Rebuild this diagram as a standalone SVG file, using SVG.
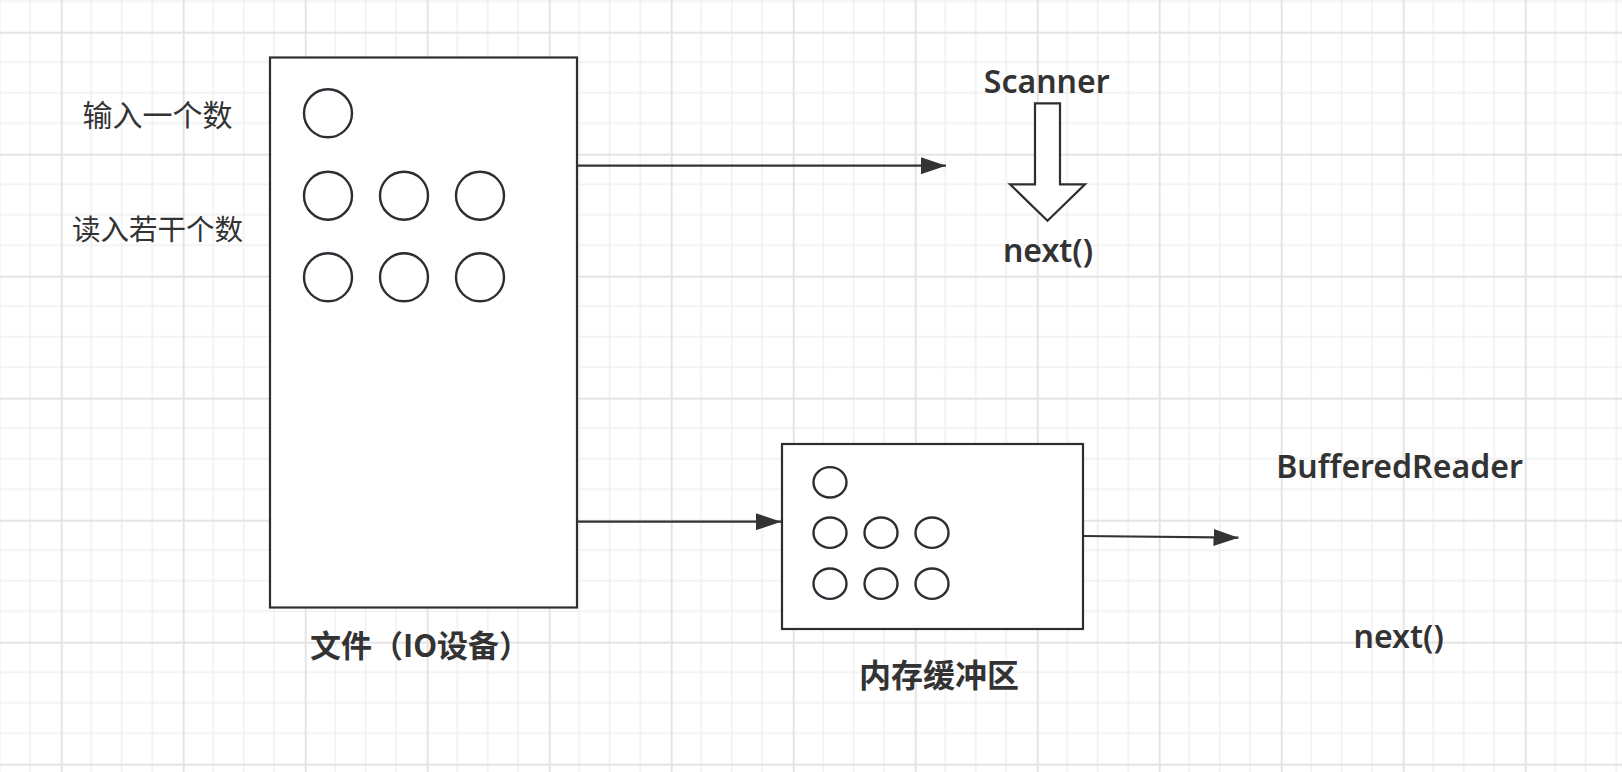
<svg xmlns="http://www.w3.org/2000/svg" width="1622" height="772" viewBox="0 0 1622 772">
<style>
.box{fill:#fff;stroke:#2b2e33;stroke-width:2.2}
.dot{fill:none;stroke:#2b2e33;stroke-width:2.4}
.conn{stroke:#333;stroke-width:2.2;fill:none}
.cjk{font-family:"Noto Sans CJK SC","Noto Sans",sans-serif;fill:#333}
.lat{font-family:"Noto Sans","Liberation Sans",sans-serif;font-weight:600;fill:#333;font-size:32px}
.big{fill:#fff;stroke:#2b2e33;stroke-width:2.2}
</style>
<defs>
<pattern id="grid" patternUnits="userSpaceOnUse" x="60.7" y="31.7" width="122" height="122">
<path d="M30.5 0V122M61 0V122M91.5 0V122M0 30.5H122M0 61H122M0 91.5H122" stroke="#efefef" stroke-width="1.5" fill="none"/>
<path d="M1 0V122M0 1H122" stroke="#e4e4e4" stroke-width="2" fill="none"/>
</pattern>
<marker id="ah" markerUnits="userSpaceOnUse" markerWidth="25" markerHeight="17" refX="25" refY="8.5" orient="auto">
<path d="M0 0L25 8.5L0 17z" fill="#333"/>
</marker>
</defs>
<rect width="1622" height="772" fill="#fff"/>
<rect width="1622" height="772" fill="url(#grid)"/>

<g id="labels-left">
<text class="cjk" x="157.5" y="126" font-size="30" text-anchor="middle">输入一个数</text>
<text class="cjk" x="157.5" y="240" font-size="28.5" text-anchor="middle">读入若干个数</text>
</g>

<g id="file">
<rect class="big" x="270" y="57.5" width="307" height="550"/>
<circle class="dot" cx="328" cy="113.3" r="24"/>
<circle class="dot" cx="328" cy="195.7" r="24"/>
<circle class="dot" cx="404" cy="195.7" r="24"/>
<circle class="dot" cx="480" cy="195.7" r="24"/>
<circle class="dot" cx="328" cy="277.3" r="24"/>
<circle class="dot" cx="404" cy="277.3" r="24"/>
<circle class="dot" cx="480" cy="277.3" r="24"/>
<text class="cjk" x="420" y="657" font-size="31" font-weight="600" text-anchor="middle">文件（IO设备）</text>
</g>

<g id="buffer">
<rect class="box" x="782" y="444" width="301" height="185"/>
<ellipse class="dot" cx="830" cy="482.3" rx="16.5" ry="15.2"/>
<ellipse class="dot" cx="830" cy="532.7" rx="16.5" ry="15.2"/>
<ellipse class="dot" cx="881" cy="532.7" rx="16.5" ry="15.2"/>
<ellipse class="dot" cx="932" cy="532.7" rx="16.5" ry="15.2"/>
<ellipse class="dot" cx="830" cy="583.7" rx="16.5" ry="15.2"/>
<ellipse class="dot" cx="881" cy="583.7" rx="16.5" ry="15.2"/>
<ellipse class="dot" cx="932" cy="583.7" rx="16.5" ry="15.2"/>
<text class="cjk" x="939" y="687" font-size="32" font-weight="bold" text-anchor="middle">内存缓冲区</text>
</g>

<g id="scanner">
<text class="lat" x="1046.7" y="92.7" text-anchor="middle">Scanner</text>
<polygon points="1035,103.3 1060,103.3 1060,184.3 1085,184.3 1047.5,220.7 1010,184.3 1035,184.3" fill="#fff" stroke="#2b2e33" stroke-width="2.2" stroke-linejoin="miter"/>
<text class="lat" x="1048" y="261.7" text-anchor="middle">next()</text>
</g>

<g id="bufferedreader">
<text class="lat" x="1399.5" y="478.3" text-anchor="middle">BufferedReader</text>
<text class="lat" x="1398.7" y="648.3" text-anchor="middle">next()</text>
</g>

<g id="connectors">
<line class="conn" x1="577" y1="165.7" x2="946" y2="165.7" marker-end="url(#ah)"/>
<line class="conn" x1="577" y1="521.7" x2="781" y2="521.7" marker-end="url(#ah)"/>
<line class="conn" x1="1083" y1="536" x2="1238.5" y2="537.7" marker-end="url(#ah)"/>
</g>
</svg>
